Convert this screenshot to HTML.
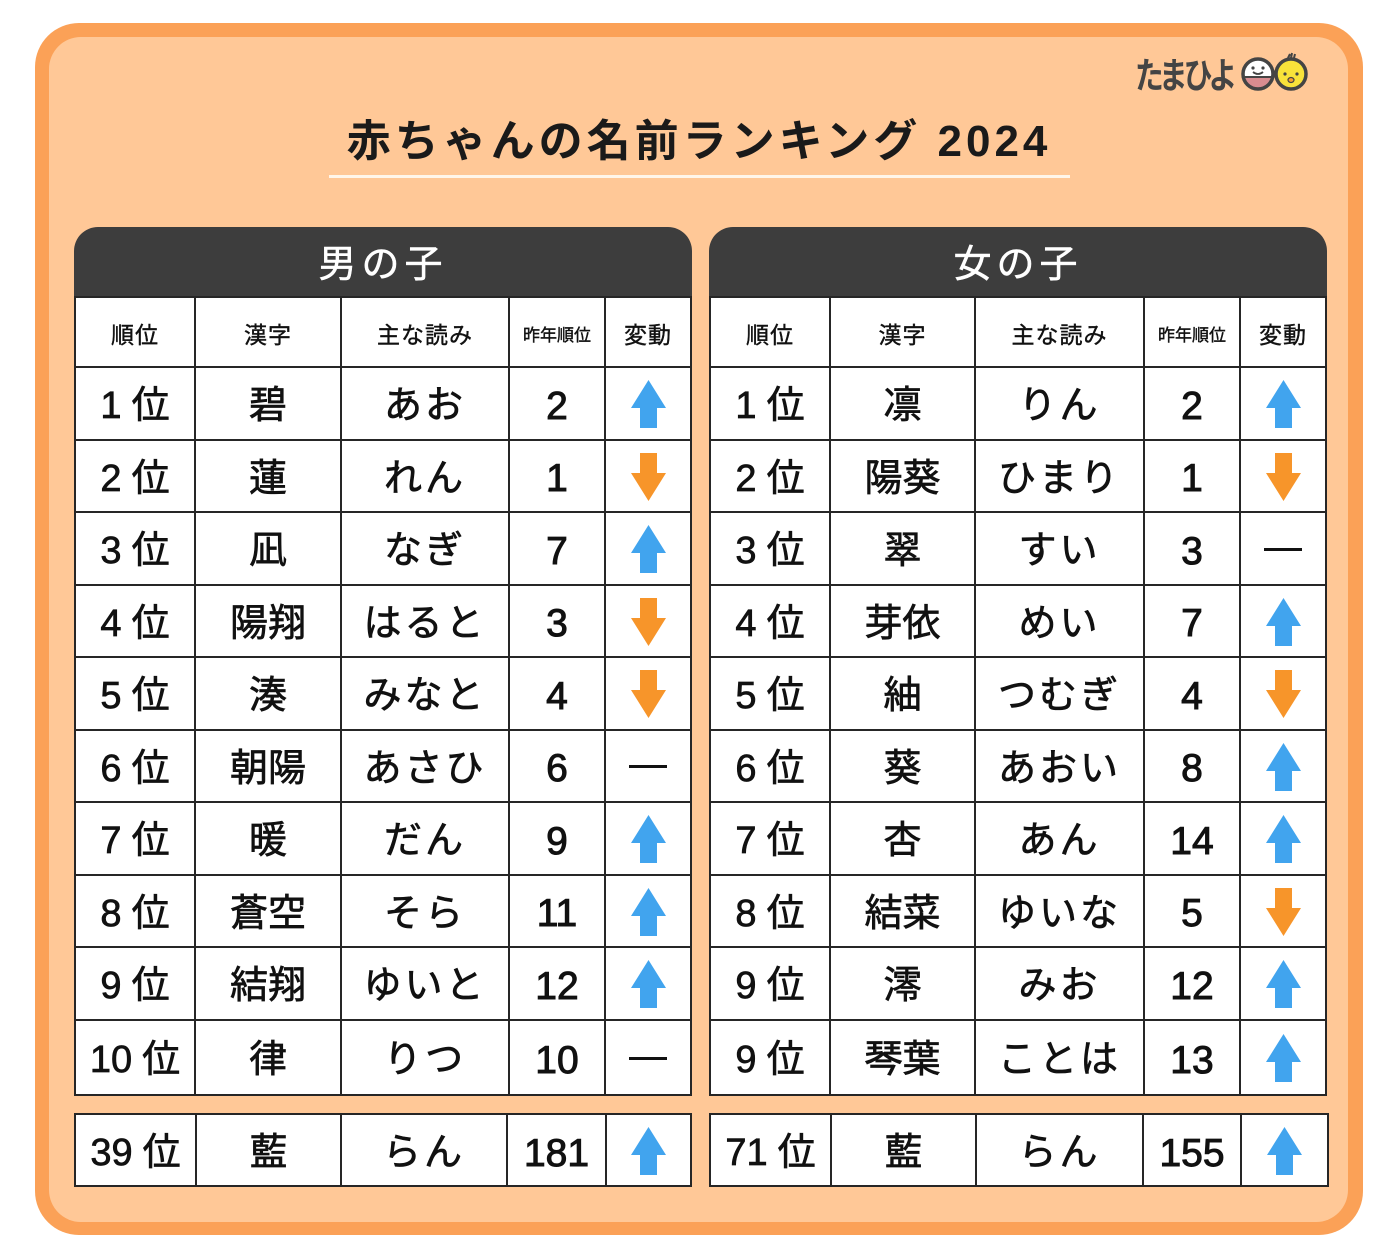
<!DOCTYPE html>
<html><head><meta charset="utf-8">
<style>
*{margin:0;padding:0;box-sizing:border-box}
html,body{width:1398px;height:1254px;background:#fff;overflow:hidden}
body{position:relative;font-family:"Liberation Sans","Noto Sans CJK JP",sans-serif;color:#111}
.outer{position:absolute;left:35px;top:23px;width:1328px;height:1212px;background:#FBA157;border-radius:44px}
.inner{position:absolute;left:49px;top:37px;width:1299px;height:1185px;background:#FFC897;border-radius:32px}
.title{position:absolute;left:0;width:1398px;top:110px;text-align:center;font-size:44px;font-weight:700;letter-spacing:4px;line-height:64px;color:#1a1a1a}
.uline{position:absolute;left:329px;top:175px;width:741px;height:3px;background:#FFF6EA}
.band{position:absolute;top:227px;height:72px;background:#3d3d3d;border-radius:24px 24px 0 0;color:#fff;font-size:38px;letter-spacing:5px;text-align:center;line-height:76px;font-weight:400;-webkit-text-stroke:0.5px #fff}
.grid{position:absolute;background:#262626;padding:2px;display:grid;gap:2px}
.grid div{background:#fff;display:flex;align-items:center;justify-content:center;font-size:38px;font-weight:400;white-space:nowrap;line-height:1;padding-top:6px;-webkit-text-stroke:0.7px #111}
.grid div.h{font-size:23px;letter-spacing:1px;-webkit-text-stroke:0.4px #111}
.grid div.hs{font-size:17px;letter-spacing:0}
.grid div.k{letter-spacing:3px}
.grid div.n{font-size:39px;-webkit-text-stroke:1px #111}
.grid div.a{padding-top:2px}
.r span{margin-left:10px}
.dash{display:block;width:38px;height:3px;background:#111;margin-top:-4px}
</style></head><body>
<div class="outer"></div>
<div class="inner"></div>

<!-- logo -->
<div style="position:absolute;left:1135px;top:50px;font-size:36px;font-weight:700;color:#444;letter-spacing:-5px;line-height:46px;font-family:'Noto Sans CJK JP',sans-serif;transform:scaleX(0.8);transform-origin:left center">たまひよ</div>
<svg style="position:absolute;left:1238px;top:52px" width="74" height="44" viewBox="0 0 74 44">
  <defs><clipPath id="eg"><circle cx="20" cy="22" r="15"/></clipPath></defs>
  <circle cx="20" cy="22" r="15" fill="#fff"/>
  <rect x="0" y="25" width="40" height="20" fill="#D98C90" clip-path="url(#eg)"/>
  <circle cx="20" cy="22" r="15" fill="none" stroke="#444" stroke-width="3.5"/>
  <line x1="5" y1="25" x2="35" y2="25" stroke="#444" stroke-width="2"/>
  <circle cx="15" cy="16" r="1.6" fill="#444"/><circle cx="25" cy="16" r="1.6" fill="#444"/>
  <path d="M15 20 Q20 24 25 20" stroke="#444" stroke-width="1.8" fill="none"/>
  <path d="M50 6 L52 2 M53 6 L54 1 M56 6 L57 2" stroke="#444" stroke-width="2"/>
  <circle cx="53" cy="22" r="15" fill="#F8E23A" stroke="#444" stroke-width="3.5"/>
  <circle cx="47" cy="22" r="1.6" fill="#444"/><circle cx="59" cy="22" r="1.6" fill="#444"/>
  <ellipse cx="53" cy="28" rx="3" ry="2.5" fill="#F5A030" stroke="#444" stroke-width="1.2"/>
</svg>

<div class="title">赤ちゃんの名前ランキング 2024</div>
<div class="uline"></div>

<!-- BOYS -->
<div class="band" style="left:74px;width:618px">男の子</div>
<div class="grid" style="left:74px;top:296px;width:618px;grid-template-columns:118px 144px 166px 94px 84px;grid-template-rows:68px repeat(9,70.5px) 73.5px">
<div class="h">順位</div><div class="h">漢字</div><div class="h">主な読み</div><div class="h hs">昨年順位</div><div class="h">変動</div>
<div class="r">1<span>位</span></div><div>碧</div><div class="k">あお</div><div class="n">2</div><div class="a"><svg width="35" height="48"><polygon points="17.5,0 35,28 26,28 26,48 9,48 9,28 0,28" fill="#41A4EE"/></svg></div>
<div class="r">2<span>位</span></div><div>蓮</div><div class="k">れん</div><div class="n">1</div><div class="a"><svg width="35" height="48"><polygon points="17.5,48 35,20 26,20 26,0 9,0 9,20 0,20" fill="#F7952A"/></svg></div>
<div class="r">3<span>位</span></div><div>凪</div><div class="k">なぎ</div><div class="n">7</div><div class="a"><svg width="35" height="48"><polygon points="17.5,0 35,28 26,28 26,48 9,48 9,28 0,28" fill="#41A4EE"/></svg></div>
<div class="r">4<span>位</span></div><div>陽翔</div><div class="k">はると</div><div class="n">3</div><div class="a"><svg width="35" height="48"><polygon points="17.5,48 35,20 26,20 26,0 9,0 9,20 0,20" fill="#F7952A"/></svg></div>
<div class="r">5<span>位</span></div><div>湊</div><div class="k">みなと</div><div class="n">4</div><div class="a"><svg width="35" height="48"><polygon points="17.5,48 35,20 26,20 26,0 9,0 9,20 0,20" fill="#F7952A"/></svg></div>
<div class="r">6<span>位</span></div><div>朝陽</div><div class="k">あさひ</div><div class="n">6</div><div><i class="dash"></i></div>
<div class="r">7<span>位</span></div><div>暖</div><div class="k">だん</div><div class="n">9</div><div class="a"><svg width="35" height="48"><polygon points="17.5,0 35,28 26,28 26,48 9,48 9,28 0,28" fill="#41A4EE"/></svg></div>
<div class="r">8<span>位</span></div><div>蒼空</div><div class="k">そら</div><div class="n">11</div><div class="a"><svg width="35" height="48"><polygon points="17.5,0 35,28 26,28 26,48 9,48 9,28 0,28" fill="#41A4EE"/></svg></div>
<div class="r">9<span>位</span></div><div>結翔</div><div class="k">ゆいと</div><div class="n">12</div><div class="a"><svg width="35" height="48"><polygon points="17.5,0 35,28 26,28 26,48 9,48 9,28 0,28" fill="#41A4EE"/></svg></div>
<div class="r">10<span>位</span></div><div>律</div><div class="k">りつ</div><div class="n">10</div><div><i class="dash"></i></div>
</div>
<div class="grid" style="left:74px;top:1113px;width:618px;grid-template-columns:119px 143px 164px 97px 83px;grid-template-rows:70px">
<div class="r">39<span>位</span></div><div>藍</div><div class="k">らん</div><div class="n">181</div><div class="a"><svg width="35" height="48"><polygon points="17.5,0 35,28 26,28 26,48 9,48 9,28 0,28" fill="#41A4EE"/></svg></div>
</div>

<!-- GIRLS -->
<div class="band" style="left:709px;width:618px">女の子</div>
<div class="grid" style="left:709px;top:296px;width:618px;grid-template-columns:118px 143px 167px 94px 84px;grid-template-rows:68px repeat(9,70.5px) 73.5px">
<div class="h">順位</div><div class="h">漢字</div><div class="h">主な読み</div><div class="h hs">昨年順位</div><div class="h">変動</div>
<div class="r">1<span>位</span></div><div>凛</div><div class="k">りん</div><div class="n">2</div><div class="a"><svg width="35" height="48"><polygon points="17.5,0 35,28 26,28 26,48 9,48 9,28 0,28" fill="#41A4EE"/></svg></div>
<div class="r">2<span>位</span></div><div>陽葵</div><div class="k">ひまり</div><div class="n">1</div><div class="a"><svg width="35" height="48"><polygon points="17.5,48 35,20 26,20 26,0 9,0 9,20 0,20" fill="#F7952A"/></svg></div>
<div class="r">3<span>位</span></div><div>翠</div><div class="k">すい</div><div class="n">3</div><div><i class="dash"></i></div>
<div class="r">4<span>位</span></div><div>芽依</div><div class="k">めい</div><div class="n">7</div><div class="a"><svg width="35" height="48"><polygon points="17.5,0 35,28 26,28 26,48 9,48 9,28 0,28" fill="#41A4EE"/></svg></div>
<div class="r">5<span>位</span></div><div>紬</div><div class="k">つむぎ</div><div class="n">4</div><div class="a"><svg width="35" height="48"><polygon points="17.5,48 35,20 26,20 26,0 9,0 9,20 0,20" fill="#F7952A"/></svg></div>
<div class="r">6<span>位</span></div><div>葵</div><div class="k">あおい</div><div class="n">8</div><div class="a"><svg width="35" height="48"><polygon points="17.5,0 35,28 26,28 26,48 9,48 9,28 0,28" fill="#41A4EE"/></svg></div>
<div class="r">7<span>位</span></div><div>杏</div><div class="k">あん</div><div class="n">14</div><div class="a"><svg width="35" height="48"><polygon points="17.5,0 35,28 26,28 26,48 9,48 9,28 0,28" fill="#41A4EE"/></svg></div>
<div class="r">8<span>位</span></div><div>結菜</div><div class="k">ゆいな</div><div class="n">5</div><div class="a"><svg width="35" height="48"><polygon points="17.5,48 35,20 26,20 26,0 9,0 9,20 0,20" fill="#F7952A"/></svg></div>
<div class="r">9<span>位</span></div><div>澪</div><div class="k">みお</div><div class="n">12</div><div class="a"><svg width="35" height="48"><polygon points="17.5,0 35,28 26,28 26,48 9,48 9,28 0,28" fill="#41A4EE"/></svg></div>
<div class="r">9<span>位</span></div><div>琴葉</div><div class="k">ことは</div><div class="n">13</div><div class="a"><svg width="35" height="48"><polygon points="17.5,0 35,28 26,28 26,48 9,48 9,28 0,28" fill="#41A4EE"/></svg></div>
</div>
<div class="grid" style="left:709px;top:1113px;width:620px;grid-template-columns:119px 143px 165px 96px 85px;grid-template-rows:70px">
<div class="r">71<span>位</span></div><div>藍</div><div class="k">らん</div><div class="n">155</div><div class="a"><svg width="35" height="48"><polygon points="17.5,0 35,28 26,28 26,48 9,48 9,28 0,28" fill="#41A4EE"/></svg></div>
</div>
</body></html>
